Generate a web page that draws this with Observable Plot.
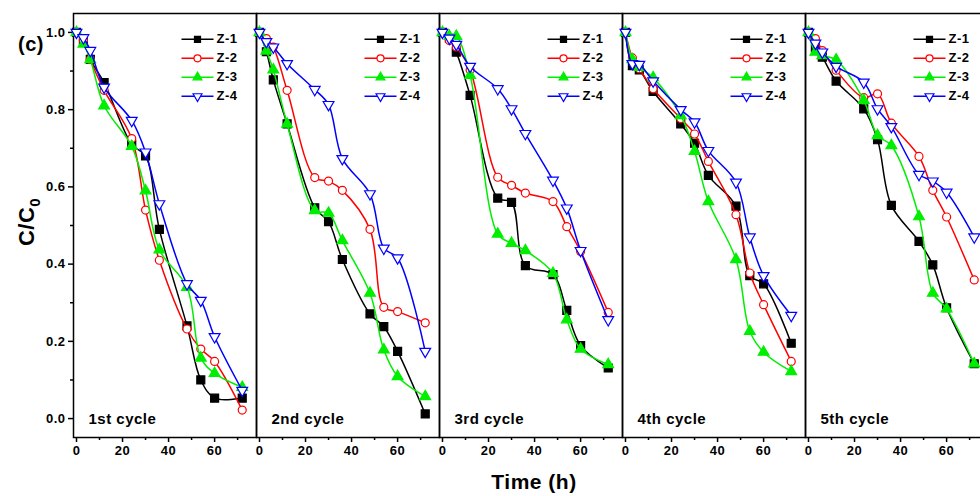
<!DOCTYPE html>
<html><head><meta charset="utf-8">
<script src="https://cdn.jsdelivr.net/npm/d3@7"></script>
<script src="https://cdn.jsdelivr.net/npm/@observablehq/plot@0.6"></script>
<style>html,body{margin:0;padding:0;overflow:hidden;background:#fff;} svg{max-width:none !important;}</style>
</head><body><div id="chart"></div>
<script>
const times = [0, 3, 6, 12, 24, 30, 36, 48, 54, 60, 72];
const cycles = ["1st cycle", "2nd cycle", "3rd cycle", "4th cycle", "5th cycle"];
const seriesNames = ["Z-1", "Z-2", "Z-3", "Z-4"];
const yTicks = [0, 0.2, 0.4, 0.6, 0.8, 1.0];
const xTicks = [0, 20, 40, 60];

const c1_Z1 = [1.0, 0.98, 0.93, 0.87, 0.71, 0.68, 0.49, 0.24, 0.10, 0.053, 0.053];
const c1_Z2 = [1.0, 0.98, 0.93, 0.85, 0.725, 0.54, 0.41, 0.232, 0.18, 0.148, 0.022];
const c1_Z3 = [1.0, 0.97, 0.93, 0.81, 0.705, 0.59, 0.437, 0.34, 0.157, 0.117, 0.081];
const c1_Z4 = [1.0, 0.986, 0.953, 0.858, 0.772, 0.69, 0.556, 0.349, 0.306, 0.212, 0.073];

const c2_Z1 = [1.0, 0.95, 0.877, 0.763, 0.546, 0.51, 0.412, 0.271, 0.238, 0.174, 0.012];
const c2_Z2 = [1.0, 0.984, 0.962, 0.85, 0.624, 0.615, 0.591, 0.49, 0.288, 0.277, 0.248];
const c2_Z3 = [1.0, 0.952, 0.903, 0.763, 0.539, 0.532, 0.461, 0.325, 0.178, 0.109, 0.057];
const c2_Z4 = [1.0, 0.976, 0.962, 0.919, 0.852, 0.813, 0.673, 0.582, 0.441, 0.416, 0.174];

const c3_Z1 = [1.0, 0.985, 0.949, 0.837, 0.571, 0.56, 0.396, 0.373, 0.28, 0.189, 0.131];
const c3_Z2 = [1.0, 0.979, 0.962, 0.903, 0.625, 0.604, 0.584, 0.562, 0.497, 0.433, 0.275];
const c3_Z3 = [1.0, 0.99, 0.99, 0.889, 0.478, 0.454, 0.435, 0.376, 0.256, 0.18, 0.14];
const c3_Z4 = [1.0, 0.985, 0.969, 0.912, 0.854, 0.802, 0.738, 0.617, 0.545, 0.435, 0.256];

const c4_Z1 = [1.0, 0.914, 0.903, 0.847, 0.763, 0.713, 0.63, 0.55, 0.37, 0.349, 0.195];
const c4_Z2 = [1.0, 0.934, 0.906, 0.854, 0.777, 0.737, 0.666, 0.528, 0.377, 0.295, 0.148];
const c4_Z3 = [1.0, 0.93, 0.91, 0.883, 0.785, 0.692, 0.562, 0.412, 0.226, 0.172, 0.122];
const c4_Z4 = [1.0, 0.919, 0.917, 0.874, 0.8, 0.768, 0.694, 0.612, 0.47, 0.37, 0.267];

const c5_Z1 = [1.0, 0.96, 0.936, 0.874, 0.802, 0.722, 0.552, 0.459, 0.398, 0.287, 0.142];
const c5_Z2 = [1.0, 0.984, 0.953, 0.902, 0.831, 0.841, 0.765, 0.679, 0.591, 0.522, 0.359];
const c5_Z3 = [1.0, 0.949, 0.94, 0.929, 0.824, 0.733, 0.707, 0.523, 0.325, 0.284, 0.142];
const c5_Z4 = [1.0, 0.972, 0.949, 0.912, 0.871, 0.802, 0.756, 0.632, 0.615, 0.586, 0.47];

const valueTable = [
  [c1_Z1, c1_Z2, c1_Z3, c1_Z4],
  [c2_Z1, c2_Z2, c2_Z3, c2_Z4],
  [c3_Z1, c3_Z2, c3_Z3, c3_Z4],
  [c4_Z1, c4_Z2, c4_Z3, c4_Z4],
  [c5_Z1, c5_Z2, c5_Z3, c5_Z4]
];

// styles
const colors = ["#000000", "#ff0000", "#00ee00", "#0000ff"];
const symbols = ["square", "circle", "triangle", "triangle"];
const fills = ["#000000", "#ffffff", "#00ee00", "#ffffff"];
const rotations = [0, 0, 0, 180];
const radii = [4.5, 4, 4, 4];
const legendRadii = [3.4, 3.5, 3.3, 3.3];

const rows = [];
cycles.forEach((c, i) => seriesNames.forEach((s, j) => times.forEach((t, k) => {
  rows.push({cycle: c, series: s, t, v: valueTable[i][j][k]});
})));

const lineSymbol = {draw(ctx) { ctx.moveTo(-16, 0); ctx.lineTo(16, 0); }};

const marks = [];
marks.push(Plot.frame({stroke: "black", strokeWidth: 1.5}));
marks.push(Plot.axisX({ticks: xTicks, tickSize: 5, tickPadding: 3, fontSize: 13, strokeWidth: 1.5, label: null, tickFormat: d3.format("d")}));
marks.push(Plot.axisX({ticks: [10, 30, 50, 70], tickSize: 3, strokeWidth: 1.5, label: null, tickFormat: () => ""}));
marks.push(Plot.axisY({ticks: yTicks, tickSize: 5, tickPadding: 3, fontSize: 13, strokeWidth: 1.5, label: null, tickFormat: d3.format(".1f")}));
marks.push(Plot.axisY({ticks: [0.1, 0.3, 0.5, 0.7, 0.9], tickSize: 3, strokeWidth: 1.5, label: null, tickFormat: () => ""}));

seriesNames.forEach((s, j) => {
  const d = rows.filter(r => r.series === s);
  marks.push(Plot.line(d, {x: "t", y: "v", fx: "cycle", stroke: colors[j], strokeWidth: 1.5, curve: "catmull-rom"}));
  marks.push(Plot.dot(d, {x: "t", y: "v", fx: "cycle", symbol: symbols[j], r: radii[j], fill: fills[j], stroke: colors[j], strokeWidth: 1.2, rotate: rotations[j]}));
});

// legend in each panel
seriesNames.forEach((s, j) => {
  const dy = 25.8 + 19 * j;
  marks.push(Plot.dot([s], {frameAnchor: "top-left", dx: 124, dy, symbol: lineSymbol, r: 5, stroke: colors[j], strokeWidth: 1.5, fill: "none"}));
  marks.push(Plot.dot([s], {frameAnchor: "top-left", dx: 124, dy, symbol: symbols[j], r: legendRadii[j], fill: fills[j], stroke: colors[j], strokeWidth: 1.2, rotate: rotations[j]}));
  marks.push(Plot.text([s], {frameAnchor: "top-left", dx: 143, dy, text: d => d, textAnchor: "start", lineAnchor: "middle", fontSize: 13, fill: "black"}));
});

marks.push(Plot.text(cycles, {fx: d => d, text: d => d, frameAnchor: "bottom-left", dx: 15, dy: -18, textAnchor: "start", lineAnchor: "middle", fontSize: 15, fill: "black"}));

const chart = Plot.plot({
  width: 1000, height: 496,
  marginLeft: 71, marginRight: 10.5, marginTop: 13, marginBottom: 59,
  x: {domain: [-1.3, 78.2]},
  y: {domain: [-0.049, 1.049]},
  fx: {domain: cycles, padding: 0, axis: null},
  style: {fontFamily: "'Liberation Sans', Arial, sans-serif", fontWeight: "bold", color: "black", background: "white", maxWidth: "none", overflow: "visible"},
  marks
});

const svg = d3.select(chart);
const yl = svg.append("text")
  .attr("transform", "translate(34,222) rotate(-90)")
  .attr("text-anchor", "middle")
  .attr("font-size", 22).attr("font-weight", "bold").attr("fill", "black");
yl.append("tspan").text("C/C");
yl.append("tspan").attr("font-size", 15).attr("dy", 6).text("0");

svg.append("text").attr("x", 31).attr("y", 51).attr("text-anchor", "middle")
  .attr("font-size", 20).attr("font-weight", "bold").attr("fill", "black").text("(c)");

svg.append("text").attr("x", 534).attr("y", 489).attr("text-anchor", "middle")
  .attr("font-size", 21).attr("font-weight", "bold").attr("fill", "black").text("Time (h)");

svg.selectAll("text").style("letter-spacing", "0.5px");

document.getElementById("chart").appendChild(chart);
</script>
</body></html>
